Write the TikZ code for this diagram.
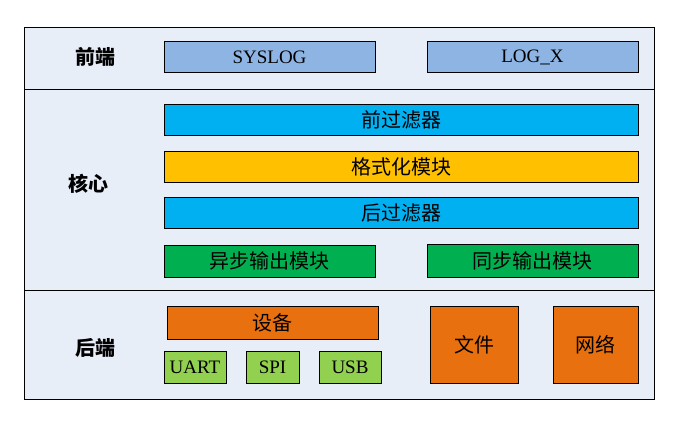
\documentclass[tikz,border=0pt]{standalone}
\usepackage{fontspec}
\setmainfont{Liberation Serif}
\newfontfamily\cjk{Noto Sans CJK SC}
\definecolor{bandbg}{HTML}{E8EEF8}
\definecolor{frontblue}{HTML}{8EB4E3}
\definecolor{corecyan}{HTML}{00B0F0}
\definecolor{coregold}{HTML}{FFC000}
\definecolor{coregreen}{HTML}{00B050}
\definecolor{backorange}{HTML}{E9700F}
\definecolor{buslime}{HTML}{92D050}
\usetikzlibrary{positioning}

\begin{document}
\begin{tikzpicture}[
    x=1pt, y=-1pt,
    band/.style={draw=black, line width=0.8pt, fill=bandbg},
    layer/.style={font=\cjk\bfseries\fontsize{20}{20}\selectfont},
    block/.style={rectangle, draw=black, line width=0.8pt, inner sep=0pt, minimum height=31pt, font=\fontsize{19}{19}\selectfont},
    zh/.style={font=\cjk\fontsize{20}{20}\selectfont},
    wide/.style={block, zh, minimum width=474pt},
    half/.style={block, minimum width=211pt},
    bus/.style={block, fill=buslime, minimum height=32pt}
]
    \useasboundingbox (0,0) rectangle (682,422);

    % three bands
    \draw[band] (24,27) rectangle (654,89);
    \draw[band] (24,89) rectangle (654,290);
    \draw[band] (24,290) rectangle (654,399);

    \node[layer] (front) at (95,57) {前端};
    \node[layer] (core) at (88,184) {核心};
    \node[layer] (back) at (95,348) {后端};

    % front
    \node[half, fill=frontblue] (syslog) at (269.5,57) {SYSLOG};
    \node[half, fill=frontblue] (logx) at (532.5,57) {LOG\_X};

    % core
    \node[wide, fill=corecyan] (prefilter) at (401,119.5) {前过滤器};
    \node[wide, fill=coregold] (format) at (401,166.5) {格式化模块};
    \node[wide, fill=corecyan] (postfilter) at (401,212.5) {后过滤器};
    \node[half, zh, fill=coregreen, minimum height=32pt] (async) at (269.5,261) {异步输出模块};
    \node[half, zh, fill=coregreen, minimum height=33pt] (sync) at (532.5,260.5) {同步输出模块};

    % back
    \node[half, zh, fill=backorange, minimum height=33pt] (device) at (272.5,322.5) {设备};
    \node[bus, minimum width=62pt] (uart) at (195,367) {UART};
    \node[bus, minimum width=53pt] (spi) at (272.5,367.5) {SPI};
    \node[bus, minimum width=62pt] (usb) at (350,367) {USB};
    \node[block, zh, fill=backorange, minimum width=88pt, minimum height=77pt] (file) at (474,344.5) {文件};
    \node[block, zh, fill=backorange, minimum width=85pt, minimum height=77pt] (net) at (595.5,344.5) {网络};
\end{tikzpicture}
\end{document}
